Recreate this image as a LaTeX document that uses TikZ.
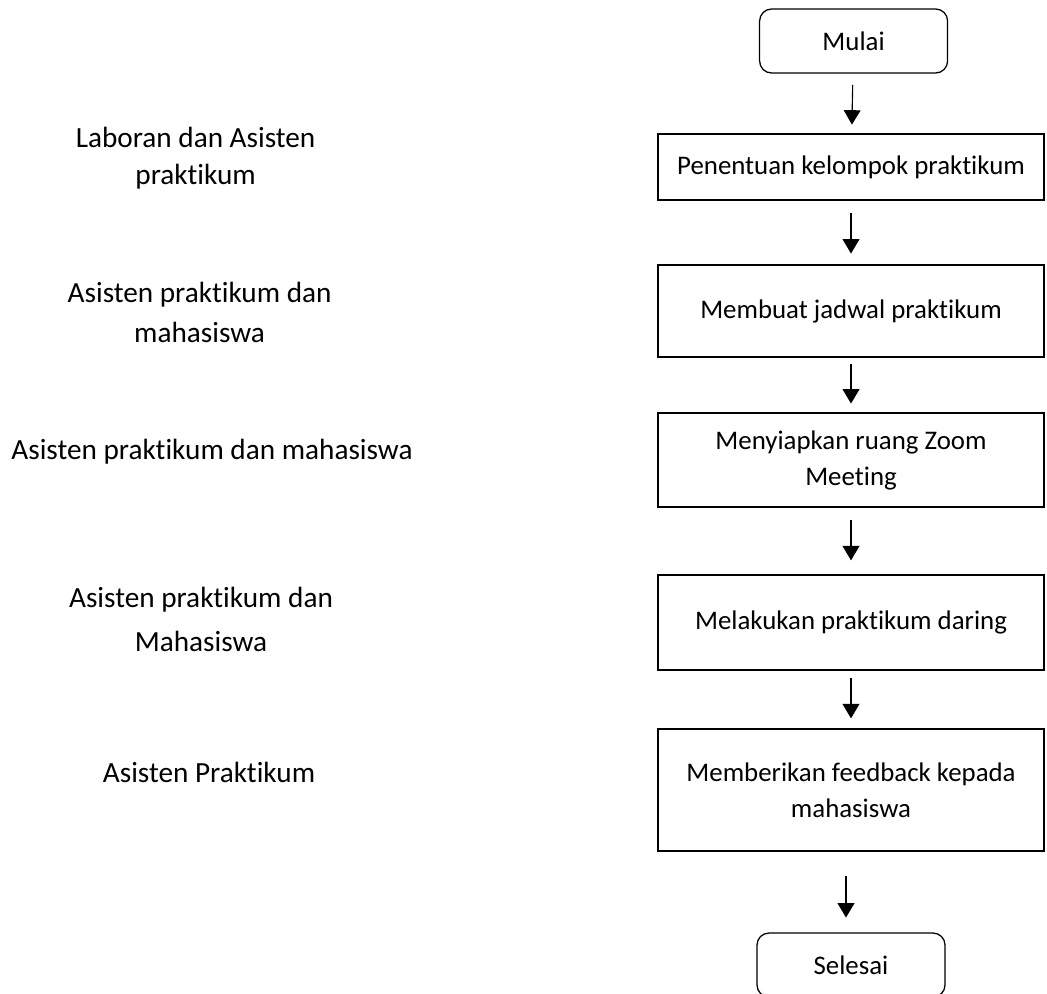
\documentclass[tikz,border=0pt]{standalone}
\usepackage{fontspec}
\setmainfont{Carlito}[Ligatures=NoCommon]
\usepackage{tikz}
\usetikzlibrary{arrows.meta,positioning}
\tikzstyle{arrow} = [line width=0.8pt,-{Triangle[width=0.42cm,length=0.36cm]},shorten <=0.28cm,shorten >=0.22cm]
\tikzstyle{process} = [rectangle, draw, line width=0.9pt, minimum width=9.65cm, text centered, align=center, inner sep=0pt, font=\fontsize{19.1}{25.6}\selectfont]
\tikzstyle{terminal} = [process, rounded corners=0.3cm, minimum width=4.7cm, minimum height=1.6cm]
\tikzstyle{actor} = [align=center, inner sep=0pt, font=\fontsize{20.8}{28.5}\selectfont]

\begin{document}
\begin{tikzpicture}
    \useasboundingbox (0,0) rectangle (26.175,-24.85);

    % Flow
    \node[terminal] (mulai) at (21.34,-1.025) {Mulai};
    \node[process, minimum height=1.65cm] (kelompok) at (21.275,-4.175) {Penentuan kelompok praktikum};
    \node[process, minimum height=2.3cm] (jadwal) at (21.275,-7.775) {Membuat jadwal praktikum};
    \node[process, minimum height=2.35cm] (zoom) at (21.275,-11.5) {Menyiapkan ruang Zoom\\Meeting};
    \node[process, minimum height=2.375cm] (daring) at (21.275,-15.5625) {Melakukan praktikum daring};
    \node[process, minimum height=3.05cm] (feedback) at (21.275,-19.75) {Memberikan feedback kepada\\mahasiswa};
    \node[terminal] (selesai) at (21.275,-24.125) {Selesai};

    % Arrows
    \draw[arrow] (mulai) -- (kelompok);
    \draw[arrow, shorten <=0.32cm, shorten >=0.27cm] (kelompok) -- (jadwal);
    \draw[arrow, shorten <=0.15cm] (jadwal) -- (zoom);
    \draw[arrow, shorten <=0.3cm, shorten >=0.35cm] (zoom) -- (daring);
    \draw[arrow, shorten <=0.18cm, shorten >=0.25cm] (daring) -- (feedback);
    \draw[arrow, shorten <=0.62cm, shorten >=0.37cm] ([xshift=-0.125cm]feedback.south) -- ([xshift=-0.125cm]selesai.north);

    % Actors
    \node[actor, font=\fontsize{20.8}{26.3}\selectfont] (aktor1) at (4.89,-3.96) {Laboran dan Asisten\\praktikum};
    \node[actor] (aktor2) at (4.99,-7.8) {Asisten praktikum dan\\mahasiswa};
    \node[actor] (aktor3) at (5.3,-11.3) {Asisten praktikum dan mahasiswa};
    \node[actor, font=\fontsize{20.8}{31.3}\selectfont] (aktor4) at (5.025,-15.475) {Asisten praktikum dan\\Mahasiswa};
    \node[actor] (aktor5) at (5.225,-19.3) {Asisten Praktikum};
\end{tikzpicture}
\end{document}
